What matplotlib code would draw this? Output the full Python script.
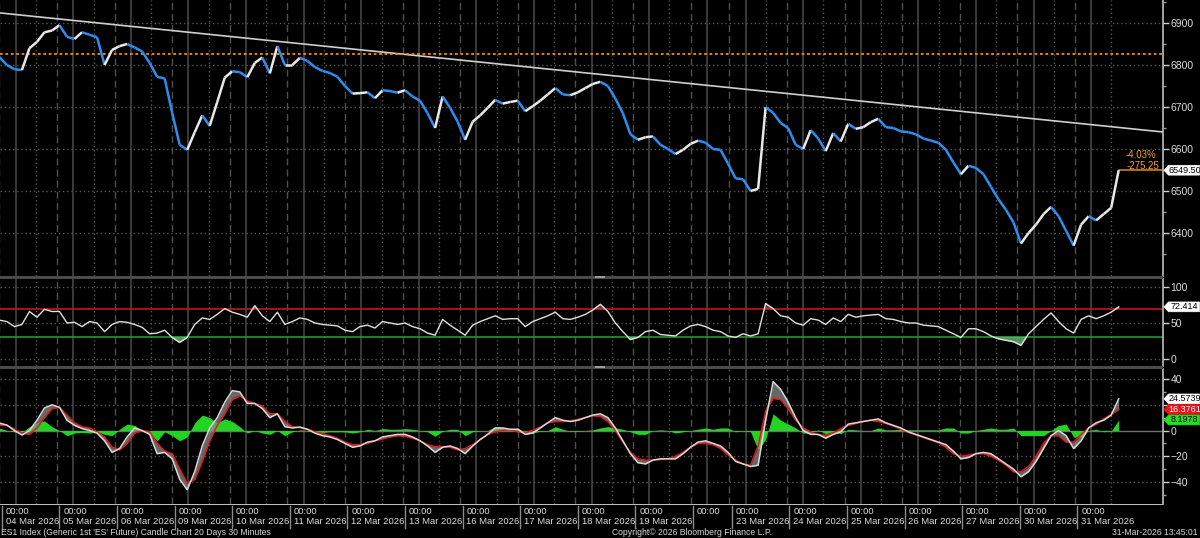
import numpy as np
import matplotlib
matplotlib.use('Agg')
import matplotlib.pyplot as plt
from matplotlib.collections import LineCollection
from matplotlib.patches import Rectangle, Polygon

plt.rcParams['font.family'] = ['Liberation Sans', 'DejaVu Sans']

# ---------------- data (sampled every 6 thirty-minute bars = 3 hours) ----------------
STEP = 6
close = [6819, 6800, 6790, 6788, 6840, 6855, 6878, 6882, 6895, 6867,
         6862, 6878, 6872, 6866, 6800, 6836, 6845, 6850, 6842, 6832,
         6805, 6772, 6768, 6686, 6610, 6598, 6640, 6680, 6655, 6712,
         6770, 6785, 6783, 6771, 6805, 6818, 6780, 6845, 6800, 6800,
         6817, 6810, 6795, 6786, 6781, 6772, 6750, 6732, 6733, 6735,
         6721, 6740, 6738, 6734, 6740, 6725, 6715, 6685, 6650, 6725,
         6698, 6665, 6622, 6665, 6680, 6698, 6717, 6708, 6712, 6715,
         6690, 6702, 6715, 6730, 6745, 6730, 6728, 6735, 6745, 6755,
         6760, 6750, 6720, 6685, 6635, 6622, 6628, 6630, 6610, 6600,
         6588, 6598, 6612, 6620, 6615, 6600, 6598, 6565, 6530, 6528,
         6500, 6505, 6700, 6686, 6662, 6650, 6610, 6600, 6645, 6625,
         6595, 6638, 6618, 6660, 6648, 6652, 6664, 6672, 6652, 6650,
         6642, 6640, 6635, 6625, 6620, 6615, 6598, 6568, 6540, 6560,
         6555, 6540, 6510, 6480, 6455, 6425, 6375, 6400, 6420, 6445,
         6462, 6440, 6405, 6370, 6420, 6440, 6430, 6445, 6460, 6549.5]

rsi = [54, 52, 45, 48, 66, 58, 69, 66, 66, 50,
       51, 45, 52, 50, 38, 48, 52, 51, 48, 44,
       35, 36, 40, 30, 23, 30, 48, 57, 55, 62,
       70, 65, 62, 58, 74, 60, 52, 65, 48, 52,
       57, 55, 50, 48, 47, 46, 40, 38, 45, 47,
       43, 52, 50, 48, 50, 45, 42, 36, 33, 55,
       47, 40, 33, 47, 52, 56, 60, 55, 56, 56,
       45, 52, 56, 60, 65, 56, 55, 58, 62, 68,
       76, 66, 50, 38, 27, 30, 38, 40, 34, 33,
       32, 40, 46, 48, 45, 40, 38, 32, 30, 35,
       32, 35, 77, 70, 60, 58, 50, 47, 56, 54,
       48, 57, 52, 62, 58, 60, 61, 62, 56, 55,
       52, 50, 50, 47, 46, 45, 40, 35, 30, 42,
       42, 38, 32, 28, 26, 24, 19, 35, 45, 55,
       64, 52, 42, 36, 55, 60, 56, 60, 65, 72.414]

macd = [5.8, 4.2, 0, -3.5, 0, 8, 17.5, 20, 18, 8,
        4, 1.5, 0, -2, -8, -17, -14, -5, 2, 0,
        -3, -18, -17, -22, -38, -46, -32, -12, 2, 10,
        22, 31, 30, 21, 21, 17, 10, 13, 3, 2,
        2.7, 1, -2, -4, -5, -7, -10, -13, -12, -9,
        -8, -5, -4, -3, -3, -5, -8, -12, -17, -13,
        -12, -14, -18, -12, -7, -3, 2, 2, 1, 1,
        -3, -2, 2, 6, 10, 8, 7, 8, 10, 12,
        13, 10, 2, -8, -18, -25, -26, -23, -22, -22,
        -22, -18, -13, -9, -8, -10, -12, -17, -24, -26,
        -28, -27, 8, 38, 32, 22, 10, 0, -3, -3,
        -6, -3, -1, 5, 6, 7, 8, 9, 6, 4,
        2, -1, -3, -5, -7, -9, -11, -16, -22, -21,
        -18, -17, -18, -22, -26, -30, -36, -32, -24, -14,
        -4, 0, -4, -14, -8, 2, 6, 8, 12, 24.5739]

signal = [4, 4, 1, -2, -3, 2, 10, 17, 18, 12,
          6, 3, 2, -1, -5, -13, -15, -10, -2, 0,
          -1, -10, -16, -18, -30, -41, -38, -24, -8, 4,
          13, 24, 27, 23, 21, 19, 13, 13, 7, 3,
          2.2, 1, -1, -2.5, -4, -6, -9, -11, -11, -10,
          -8, -6.5, -5, -4, -4.5, -6, -8, -11, -12.5, -12.5,
          -13, -15, -14, -11, -7, -3, -1, 0, 0.5, -1,
          -1.5, 0, 2.5, 6, 7, 7, 7.5, 8.5, 10, 11.5,
          11, 7, 0, -9, -17, -22, -23, -23, -22.5, -22,
          -20, -17, -13, -10, -10, -11, -14, -19, -23, -26,
          -27, -12, 15, 25, 24, 17, 8, 2, -1, -3.5,
          -3.5, -2, 1.5, 4, 5.5, 7, 8, 7, 5.5, 3.5,
          1, -1.5, -3.5, -5.5, -7.5, -9.5, -13, -18, -20, -19,
          -18, -18, -20, -23, -27, -32, -32, -28, -20, -10,
          -4, -4, -9, -9, -3, 2, 5, 9, 12.5, 16.3761]

day_labels = ['04 Mar 2026', '05 Mar 2026', '06 Mar 2026', '09 Mar 2026', '10 Mar 2026',
              '11 Mar 2026', '12 Mar 2026', '13 Mar 2026', '16 Mar 2026', '17 Mar 2026',
              '18 Mar 2026', '19 Mar 2026', '', '23 Mar 2026', '24 Mar 2026',
              '25 Mar 2026', '26 Mar 2026', '27 Mar 2026', '30 Mar 2026', '31 Mar 2026']
session_bars = [46] * 12 + [31] + [46] * 7     # 30-min bars per session (20 Mar: contract roll)

resistance_level = 6826
trend_start, trend_end = 6924, 6640.5
last_price = 6549.50
chg_pct, chg_pts = '-4.03%', '-275.25'

# ---------------- layout helpers ----------------
W, H = 1200, 538
PX_PER_BAR = 1.252
X0 = -0.6

def bx(px):
    return (px - X0) / PX_PER_BAR

BG = 'black'
GRID_SOLID = '#4a4a4a'
GRID_DASH = '#4f4f4f'
GRID_DOT = '#555555'
TXT = '#dcdcdc'

fig = plt.figure(figsize=(12, 5.38), dpi=100, facecolor=BG)

def rect(left, top, right, bottom):
    return [left / W, 1 - bottom / H, (right - left) / W, (bottom - top) / H]

ax1 = fig.add_axes(rect(0, 0, 1163, 276))
ax2 = fig.add_axes(rect(0, 279, 1163, 366))
ax3 = fig.add_axes(rect(0, 369, 1163, 504))

xlim = (bx(0), bx(1163))
day_starts = np.concatenate([[0], np.cumsum(session_bars)[:-1]])
x = np.arange(len(close)) * STEP

for ax in (ax1, ax2, ax3):
    ax.set_facecolor(BG)
    ax.set_xlim(*xlim)
    for s in ('left', 'top', 'bottom'):
        ax.spines[s].set_visible(False)
    ax.spines['right'].set_color('#bdbdbd')
    ax.spines['right'].set_linewidth(1.2)
    ax.yaxis.tick_right()
    ax.tick_params(axis='y', which='major', colors='#cfcfcf', labelcolor=TXT,
                   labelsize=7.5, length=4, width=1, pad=1.5, direction='out')
    ax.tick_params(axis='y', which='minor', colors='#9a9a9a', length=2, width=1)
    ax.set_xticks([])
    for s, n in zip(day_starts, session_bars):
        ax.axvline(s, color=GRID_DASH, lw=1, ls=(0, (5, 3)), zorder=0)
        ax.axvline(s + 13, color=GRID_SOLID, lw=1.1, zorder=0)
        if n > 35:
            ax.axvline(s + 29.2, color=GRID_DOT, lw=1, ls=(0, (1, 2)), zorder=0)


def value_box(ax, val, text, fc, tc):
    yd = ax.transData.transform((xlim[0], val))[1]   # display px from bottom
    hh = 4.9
    pts = [(1164, yd), (1168.5, yd + hh), (1199.5, yd + hh), (1199.5, yd - hh), (1168.5, yd - hh)]
    fig.add_artist(Polygon([(px / W, py / H) for px, py in pts], closed=True,
                           transform=fig.transFigure, fc=fc, ec=fc, lw=0.5, zorder=10))
    fig.text(1184.5 / W, yd / H, text, color=tc, fontsize=6.5, ha='center', va='center',
             zorder=11)


# ---------------- main price panel ----------------
ax1.set_ylim(6297.6, 6954.8)
ax1.set_yticks([6400, 6500, 6600, 6700, 6800, 6900])
ax1.set_yticks([6350, 6450, 6550, 6650, 6750, 6850, 6950], minor=True)
for v in [6400, 6500, 6600, 6700, 6800, 6900]:
    ax1.axhline(v, color=GRID_DOT, lw=1, ls=(0, (1, 2)), zorder=0)

pts = np.column_stack([x, close])
segs = np.stack([pts[:-1], pts[1:]], axis=1)
cols = ['#e8e8e8' if b >= a else '#2b8ef0' for a, b in zip(close[:-1], close[1:])]
ax1.add_collection(LineCollection(segs, colors=cols, linewidths=1.8, zorder=3))

ax1.plot(xlim, [trend_start, trend_end], color='#cfcfcf', lw=1.2, zorder=2)
ax1.axhline(resistance_level, color='#ff8c00', lw=1.3, ls=(0, (1.5, 1.5)), zorder=2)
ax1.plot([x[-1], xlim[1]], [last_price, last_price], color='#e8891a', lw=1.1, zorder=2)
ax1.text(bx(1126), 6586, chg_pct, color='#f0a020', fontsize=7, va='center', ha='left')
ax1.text(bx(1127), 6560, chg_pts, color='#f0a020', fontsize=7, va='center', ha='left')

# ---------------- RSI panel ----------------
ax2.set_ylim(-9.7, 111.1)
ax2.set_yticks([0, 50, 100])
for v in [0, 50, 100]:
    ax2.axhline(v, color=GRID_DOT, lw=1, ls=(0, (1, 2)), zorder=0)
ax2.axhline(70, color='#c0161a', lw=1.2, zorder=2)
ax2.axhline(30, color='#1f9a2a', lw=1.2, zorder=2)
rsi_a = np.array(rsi, dtype=float)
ax2.fill_between(x, rsi_a, 30, where=rsi_a < 30, interpolate=True, color='#5fae6a', alpha=0.85, zorder=2)
ax2.fill_between(x, rsi_a, 70, where=rsi_a > 70, interpolate=True, color='#b05050', alpha=0.6, zorder=2)
ax2.plot(x, rsi_a, color='#e0e0e0', lw=1.0, zorder=3)

# ---------------- MACD panel ----------------
ax3.set_ylim(-57.1, 47.8)
ax3.set_yticks([-40, -20, 0, 20, 40])
ax3.set_yticks([-50, -30, -10, 10, 30], minor=True)
for v in [-40, -20, 20, 40]:
    ax3.axhline(v, color=GRID_DOT, lw=1, ls=(0, (1, 2)), zorder=0)
ax3.axhline(0, color='#707070', lw=1.0, zorder=1)
m = np.array(macd, dtype=float)
sgl = np.array(signal, dtype=float)
hist = m - sgl
ax3.fill_between(x, hist, 0, color='#22d422', zorder=2, lw=0)
ax3.fill_between(x, m, sgl, color='#8a8a8a', alpha=0.75, zorder=3, lw=0)
ax3.plot(x, sgl, color='#e01a1a', lw=1.1, zorder=4)
ax3.plot(x, m, color='#d8d8d8', lw=1.1, zorder=5)

# value boxes on the right axis
value_box(ax1, last_price, f'{last_price:.2f}', 'white', 'black')
value_box(ax2, rsi[-1], f'{rsi[-1]:.3f}', 'white', 'black')
value_box(ax3, macd[-1], f'{macd[-1]:.4f}', 'white', 'black')
value_box(ax3, signal[-1], f'{signal[-1]:.4f}', '#e8141c', 'white')
value_box(ax3, hist[-1], f'{hist[-1]:.4f}', '#22e022', 'black')

# ---------------- separators & bottom axis ----------------
def fig_rect(x0, y0, x1, y1, color):
    fig.add_artist(Rectangle((x0 / W, 1 - y1 / H), (x1 - x0) / W, (y1 - y0) / H,
                             transform=fig.transFigure, color=color, lw=0))

fig_rect(0, 276, 1163, 279, '#4a4a4a')
fig_rect(0, 366, 1163, 369, '#4a4a4a')
fig_rect(595, 276, 605, 278, '#9a9a9a')
fig_rect(595, 366, 605, 368, '#9a9a9a')
fig_rect(0, 503.5, 1163, 505, '#bdbdbd')

def ay(px):  # axes fraction of ax3 for a figure pixel row
    return (504 - px) / (504 - 369)

xt = ax3.get_xaxis_transform()
for s, lab in zip(day_starts, day_labels):
    ax3.plot([s + 2, s + 2], [ay(506), ay(528)], color='#8c8c8c', lw=1, transform=xt, clip_on=False)
    ax3.text(s + 5.0, ay(511.5), '00:00', color=TXT, fontsize=6.8, ha='left', va='center',
             transform=xt, clip_on=False)
    if lab:
        ax3.text(s + 5.0, ay(522), lab, color=TXT, fontsize=6.8, ha='left', va='center',
                 transform=xt, clip_on=False)

fig.text(1 / W, 1 - 532.5 / H, "ES1 Index (Generic 1st 'ES' Future) Candle Chart 20 Days 30 Minutes",
         color='#d8d8d8', fontsize=6.2, ha='left', va='center')
fig.text(612 / W, 1 - 532.5 / H, 'Copyright\u00a9 2026 Bloomberg Finance L.P.',
         color='#d8d8d8', fontsize=6.2, ha='left', va='center')
fig.text(1198 / W, 1 - 532.5 / H, '31-Mar-2026 13:45:01',
         color='#d8d8d8', fontsize=6.2, ha='right', va='center')

fig.savefig('out.png', dpi=100, facecolor=BG)
